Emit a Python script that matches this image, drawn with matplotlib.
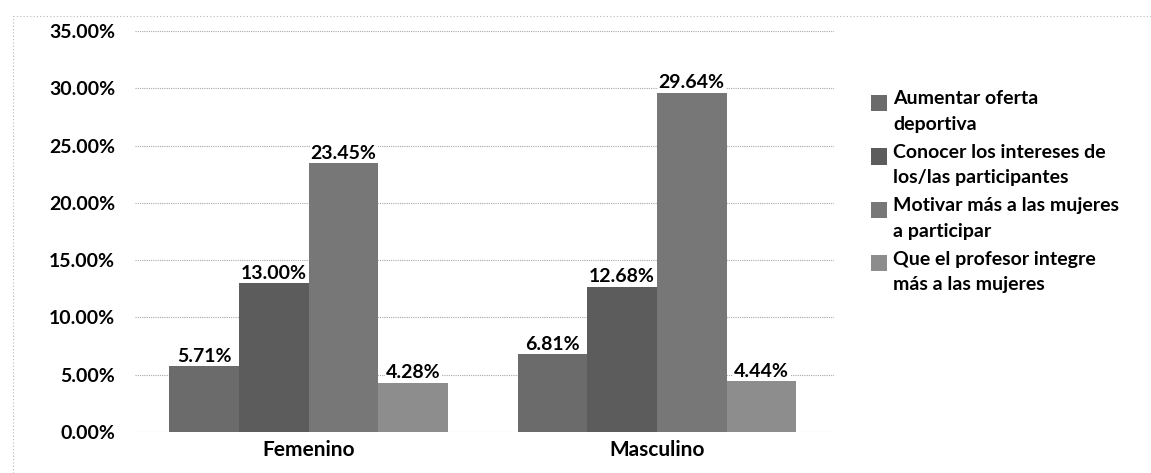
import numpy as np
import matplotlib.pyplot as plt
from matplotlib.patches import Rectangle
from matplotlib.lines import Line2D
from matplotlib.ticker import FuncFormatter, MultipleLocator

plt.rcParams['font.family'] = ['Lato', 'DejaVu Sans']
plt.rcParams['font.weight'] = 'bold'

groups = ['Femenino', 'Masculino']
series = ['Aumentar oferta\ndeportiva',
          'Conocer los intereses de\nlos/las participantes',
          'Motivar más a las mujeres\na participar',
          'Que el profesor integre\nmás a las mujeres']
aumentar = [5.71, 6.81]
conocer = [13.00, 12.68]
motivar = [23.45, 29.64]
integre = [4.28, 4.44]
values = [aumentar, conocer, motivar, integre]
colors = ['#6b6b6b', '#5c5c5c', '#777777', '#8d8d8d']

W, H = 1151, 473
fig = plt.figure(figsize=(W / 100, H / 100), dpi=100)
ax = fig.add_axes([0.117, 0.087, 0.608, 0.847])

x = np.arange(len(groups))
width = 0.2
for i, (vals, col) in enumerate(zip(values, colors)):
    pos = x + (i - 1.5) * width
    ax.bar(pos, vals, width, color=col, zorder=2)
    for p, v in zip(pos, vals):
        ax.annotate(f'{v:.2f}%', (p, v), xytext=(0, 1), textcoords='offset points',
                    ha='center', va='bottom', fontsize=14, fontweight='bold',
                    bbox=dict(facecolor='white', edgecolor='none', pad=0.5), zorder=3)

ax.set_xlim(-0.5, 1.51)
ax.set_ylim(0, 35)
ax.yaxis.set_major_locator(MultipleLocator(5))
ax.yaxis.set_major_formatter(FuncFormatter(lambda v, _: f'{v:.2f}%'))
ax.set_xticks(x)
ax.set_xticklabels(groups)
ax.tick_params(axis='x', length=0, labelsize=15, pad=6)
ax.tick_params(axis='y', length=0, labelsize=14, pad=14)
ax.grid(axis='y', color='#a8a8a8', linestyle=(0, (1, 1)), linewidth=0.8, zorder=0)
for s in ax.spines.values():
    s.set_visible(False)

# legend, laid out by hand so the wrapped lines get even spacing
for i, (lab, col) in enumerate(zip(series, colors)):
    top = 90 + i * 53.5
    fig.text(893 / W, 1 - top / H, lab, ha='left', va='top', fontsize=14,
             fontweight='bold', linespacing=1.62)
    fig.add_artist(Rectangle((871 / W, 1 - (top + 21) / H), 16 / W, 16 / H,
                             transform=fig.transFigure, facecolor=col,
                             edgecolor='none'))

# light dotted frame round the chart
fig.add_artist(Line2D([0.011, 0.011], [0.0, 0.966], color='#b8b8b8',
                      linestyle=(0, (1, 2)), linewidth=0.8))
fig.add_artist(Line2D([0.011, 1.0], [0.966, 0.966], color='#b8b8b8',
                      linestyle=(0, (1, 2)), linewidth=0.8))

fig.savefig('out.png', dpi=100)
